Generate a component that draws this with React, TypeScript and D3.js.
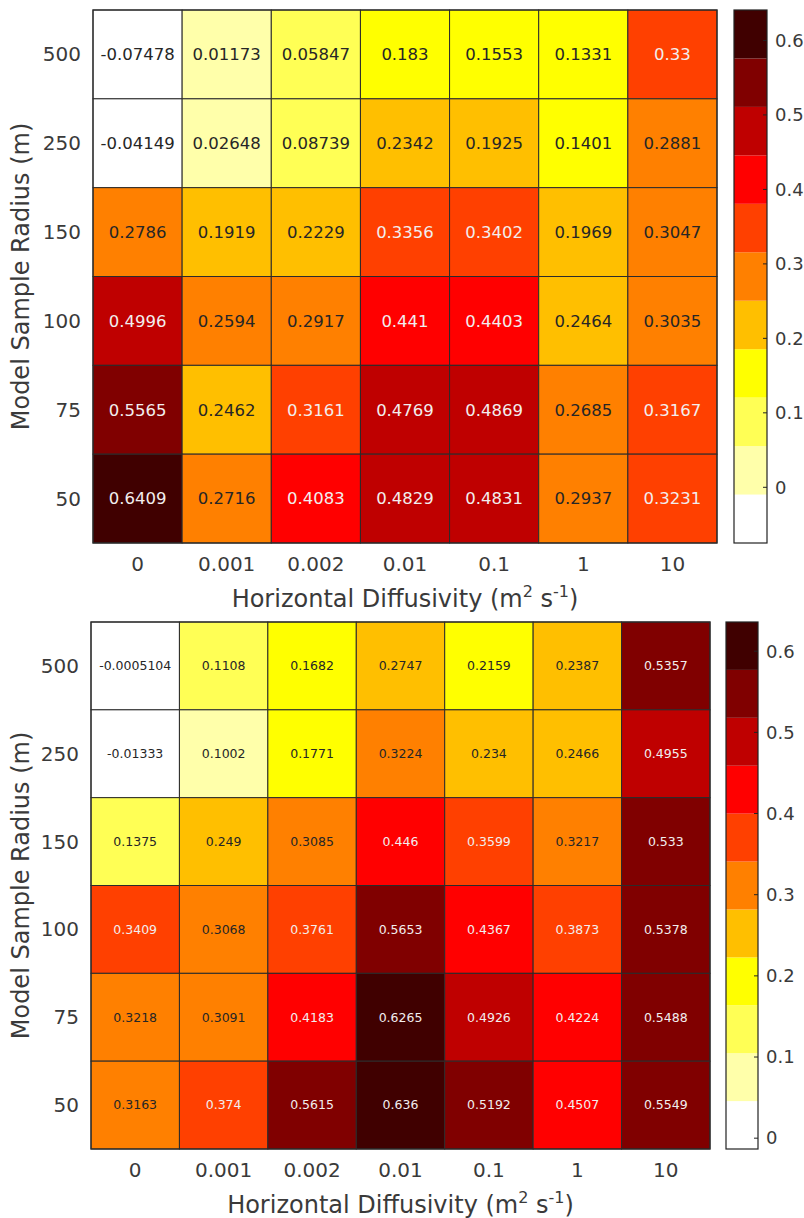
import React from "react";
import * as d3 from "d3";

const radii = ["500", "250", "150", "100", "75", "50"];
const diffusivities = ["0", "0.001", "0.002", "0.01", "0.1", "1", "10"];

// rows follow radii (top to bottom), columns follow diffusivities
const topValues = [
  [-0.07478, 0.01173, 0.05847, 0.183, 0.1553, 0.1331, 0.33],
  [-0.04149, 0.02648, 0.08739, 0.2342, 0.1925, 0.1401, 0.2881],
  [0.2786, 0.1919, 0.2229, 0.3356, 0.3402, 0.1969, 0.3047],
  [0.4996, 0.2594, 0.2917, 0.441, 0.4403, 0.2464, 0.3035],
  [0.5565, 0.2462, 0.3161, 0.4769, 0.4869, 0.2685, 0.3167],
  [0.6409, 0.2716, 0.4083, 0.4829, 0.4831, 0.2937, 0.3231],
];

const bottomValues = [
  [-0.0005104, 0.1108, 0.1682, 0.2747, 0.2159, 0.2387, 0.5357],
  [-0.01333, 0.1002, 0.1771, 0.3224, 0.234, 0.2466, 0.4955],
  [0.1375, 0.249, 0.3085, 0.446, 0.3599, 0.3217, 0.533],
  [0.3409, 0.3068, 0.3761, 0.5653, 0.4367, 0.3873, 0.5378],
  [0.3218, 0.3091, 0.4183, 0.6265, 0.4926, 0.4224, 0.5488],
  [0.3163, 0.374, 0.5615, 0.636, 0.5192, 0.4507, 0.5549],
];

const colorbarTicks = [0, 0.1, 0.2, 0.3, 0.4, 0.5, 0.6];

// flipped "hot" colormap with 11 levels
const hotColors = [
  [1, 1, 1], [1, 1, 0.667], [1, 1, 0.333], [1, 1, 0], [1, 0.75, 0], [1, 0.5, 0],
  [1, 0.25, 0], [1, 0, 0], [0.75, 0, 0], [0.5, 0, 0], [0.25, 0, 0],
];

const FONT = "'DejaVu Sans', sans-serif";
const INK = "#3a3a3a";

const rgb = (c: number[]) => d3.rgb(c[0] * 255, c[1] * 255, c[2] * 255).formatHex();
const fmt = (v: number) => String(Number(v.toPrecision(4)));

type PanelProps = {
  values: number[][];
  x0: number; x1: number; y0: number; y1: number;
  cbX: number; cbW: number;
  cellFont: number;
};

function Panel({ values, x0, x1, y0, y1, cbX, cbW, cellFont }: PanelProps) {
  const flat = values.flat();
  const lo = d3.min(flat)!, hi = d3.max(flat)!;

  const x = d3.scaleBand().domain(diffusivities).range([x0, x1]);
  const y = d3.scaleBand().domain(radii).range([y0, y1]);
  const color = d3.scaleQuantize<number[]>().domain([lo, hi]).range(hotColors);
  const cb = d3.scaleLinear().domain([lo, hi]).range([y1, y0]);
  const step = (hi - lo) / hotColors.length;

  return (
    <g>
      {values.map((row, i) =>
        row.map((v, j) => {
          const c = color(v);
          const lum = 0.299 * c[0] + 0.587 * c[1] + 0.114 * c[2];
          return (
            <g key={`${i}-${j}`}>
              <rect x={x(diffusivities[j])} y={y(radii[i])} width={x.bandwidth()} height={y.bandwidth()}
                fill={rgb(c)} stroke="#2b2b2b" strokeWidth={1} />
              <text x={x(diffusivities[j])! + x.bandwidth() / 2} y={y(radii[i])! + y.bandwidth() / 2}
                dy="0.35em" textAnchor="middle" fontSize={cellFont} fill={lum < 0.5 ? "#f2eeee" : "#262626"}>
                {fmt(v)}
              </text>
            </g>
          );
        })
      )}
      <rect x={x0} y={y0} width={x1 - x0} height={y1 - y0} fill="none" stroke="#2b2b2b" strokeWidth={1.2} />

      {radii.map((r) => (
        <text key={r} x={x0 - 12} y={y(r)! + y.bandwidth() / 2} dy="0.35em" textAnchor="end" fontSize={20} fill={INK}>{r}</text>
      ))}
      {diffusivities.map((d) => (
        <text key={d} x={x(d)! + x.bandwidth() / 2} y={y1 + 21} dy="0.35em" textAnchor="middle" fontSize={20} fill={INK}>{d}</text>
      ))}
      <text x={(x0 + x1) / 2} y={y1 + 56} dy="0.35em" textAnchor="middle" fontSize={24} fill={INK}>
        Horizontal Diffusivity (m<tspan dy={-10} fontSize={16}>2</tspan>
        <tspan dy={10}> s</tspan><tspan dy={-10} fontSize={16}>-1</tspan><tspan dy={10}>)</tspan>
      </text>
      <text transform={`translate(21,${(y0 + y1) / 2}) rotate(-90)`} dy="0.35em" textAnchor="middle" fontSize={24} fill={INK}>
        Model Sample Radius (m)
      </text>

      {hotColors.map((c, k) => (
        <rect key={k} x={cbX} y={cb(lo + step * (k + 1))} width={cbW} height={cb(lo + step * k) - cb(lo + step * (k + 1))} fill={rgb(c)} />
      ))}
      <rect x={cbX} y={y0} width={cbW} height={y1 - y0} fill="none" stroke="#222" strokeWidth={1.2} />
      {colorbarTicks.map((t) => (
        <g key={t}>
          <line x1={cbX + cbW - 4} x2={cbX + cbW} y1={cb(t)} y2={cb(t)} stroke="#222" />
          <text x={cbX + cbW + 8} y={cb(t)} dy="0.35em" fontSize={18} fill={INK}>{t}</text>
        </g>
      ))}
    </g>
  );
}

export default function App() {
  return (
    <svg width={804} height={1218} style={{ position: "absolute", left: 0, top: 0, background: "#fff" }} fontFamily={FONT}>
      <Panel values={topValues} x0={93} x1={717} y0={10} y1={543} cbX={734} cbW={33} cellFont={16.5} />
      <Panel values={bottomValues} x0={91} x1={710} y0={622} y1={1149} cbX={726} cbW={32} cellFont={12.5} />
    </svg>
  );
}
